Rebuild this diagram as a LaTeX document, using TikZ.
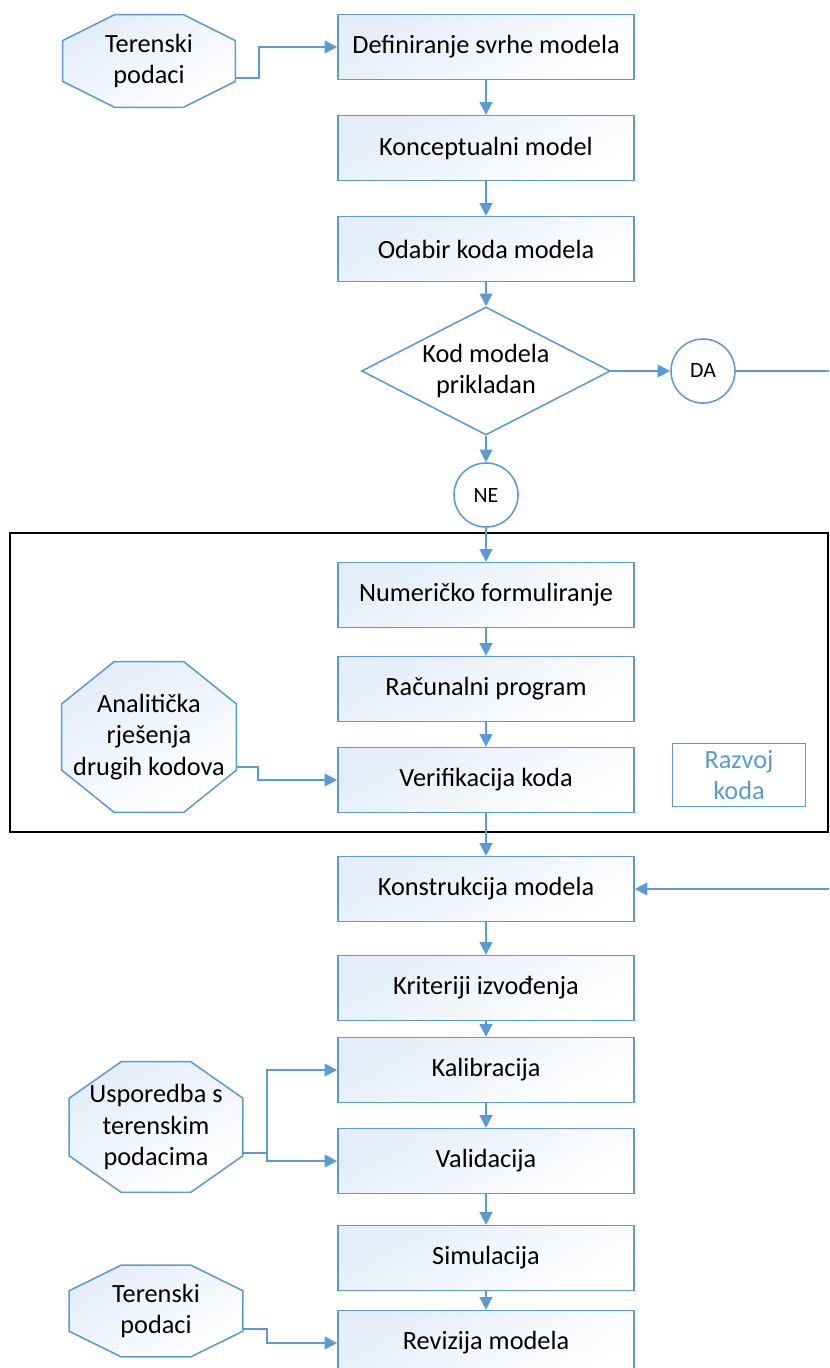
\documentclass[tikz,border=0pt]{standalone}
\usepackage{fontspec}
\setmainfont{Carlito}
\usetikzlibrary{arrows.meta,shapes.geometric,calc,backgrounds}
\definecolor{lineblue}{RGB}{91,155,213}
\definecolor{boxtop}{RGB}{228,237,248}

\begin{document}
\begin{tikzpicture}
		[x=0.025cm, y=-0.025cm,
		stepbox/.style={draw=lineblue, line width=1.1pt, top color=boxtop, bottom color=white, shading angle=30,
			minimum width=7.4cm, minimum height=1.62cm, font=\fontsize{18.7}{22}\selectfont},
		octline/.style={draw=lineblue, line width=1.1pt, top color=boxtop, bottom color=white, shading angle=30},
		octa/.style={align=center, inner sep=0pt, font=\fontsize{18.7}{22.5}\selectfont,
			append after command={\pgfextra{\begin{pgfinterruptpath}\begin{pgfonlayer}{background}
				\draw[octline] ($(\tikzlastnode.north west)!0.3!(\tikzlastnode.north east)$)
				-- ($(\tikzlastnode.north west)!0.7!(\tikzlastnode.north east)$)
				-- ($(\tikzlastnode.north east)!0.28!(\tikzlastnode.south east)$)
				-- ($(\tikzlastnode.north east)!0.72!(\tikzlastnode.south east)$)
				-- ($(\tikzlastnode.south west)!0.7!(\tikzlastnode.south east)$)
				-- ($(\tikzlastnode.south west)!0.3!(\tikzlastnode.south east)$)
				-- ($(\tikzlastnode.north west)!0.72!(\tikzlastnode.south west)$)
				-- ($(\tikzlastnode.north west)!0.28!(\tikzlastnode.south west)$) -- cycle;
				\end{pgfonlayer}\end{pgfinterruptpath}}}},
		decision/.style={diamond, aspect=1.9, draw=lineblue, line width=1.1pt, fill=white, inner sep=0pt,
			align=center, minimum width=6.22cm, minimum height=3.2cm, font=\fontsize{18.7}{22}\selectfont},
		joint/.style={circle, draw=lineblue, line width=1.1pt, fill=white, minimum size=1.6cm, inner sep=0pt,
			font=\fontsize{15.5}{17}\selectfont},
		frame/.style={draw=black, line width=1.3pt},
		link/.style={lineblue, line width=1.4pt},
		arrow/.style={link, -{Triangle[length=9pt,width=9pt]}}]
		
		\useasboundingbox (0,0) rectangle (829,1368);
		\clip (0,0) rectangle (829,1368);
		
		\draw[frame] (10,533) rectangle (828,832);
		
		% main column
		\node[stepbox] (def) at (486,47) {Definiranje svrhe modela};
		\node[stepbox] (konc) at (486,148) {Konceptualni model};
		\node[stepbox] (odab) at (486,249) {Odabir koda modela};
		\node[decision] (kod) at (486,371) {Kod modela\\prikladan};
		\node[joint] (da) at (703,371) {DA};
		\node[joint] (ne) at (486,495) {NE};
		\node[stepbox] (num) at (486,595) {Numeričko formuliranje};
		\node[stepbox] (rac) at (486,689) {Računalni program};
		\node[stepbox] (ver) at (486,780) {Verifikacija koda};
		\node[stepbox] (kon) at (486,889) {Konstrukcija modela};
		\node[stepbox] (kri) at (486,988) {Kriteriji izvođenja};
		\node[stepbox] (kal) at (486,1070) {Kalibracija};
		\node[stepbox] (val) at (486,1161) {Validacija};
		\node[stepbox] (sim) at (486,1258) {Simulacija};
		\node[stepbox] (rev) at (486,1343) {Revizija modela};
		
		\node[stepbox, minimum width=3.32cm, minimum height=1.58cm, text=lineblue, align=center,
		top color=white, font=\fontsize{18.7}{22.5}\selectfont] (razvoj) at (739,775) {Razvoj\\koda};
		
		% inputs
		\node[octa, minimum width=4.3cm, minimum height=2.3cm] (ter1) at (149,61) {Terenski\\podaci};
		\node[octa, minimum width=4.35cm, minimum height=3.75cm] (anal) at (149,737) {Analitička\\rješenja\\drugih kodova};
		\node[octa, minimum width=4.33cm, minimum height=3.25cm] (uspo) at (156,1127) {Usporedba s\\terenskim\\podacima};
		\node[octa, minimum width=4.33cm, minimum height=2.28cm] (ter2) at (156,1311) {Terenski\\podaci};
		
		\coordinate (edgeA) at (829,371);
		\coordinate (edgeB) at (829,889);
		
		\foreach \a/\b in {def/konc, konc/odab, odab/kod, kod/ne, ne/num, num/rac, rac/ver,
			ver/kon, kon/kri, kri/kal, kal/val, val/sim, sim/rev}
		\draw[arrow] (\a) -- (\b);
		
		\draw[arrow] (kod) -- (da);
		\draw[link] (da) -- (edgeA);
		\draw[arrow] (edgeB) -- (kon);
		
		\draw[arrow] ($(ter1.east)+(0,17)$) -- ++(24,0) |- (def);
		\draw[arrow] ($(anal.east)+(0,30)$) -- ++(22,0) |- (ver);
		\draw[arrow] ($(uspo.east)+(0,26)$) -- ++(24,0) |- (kal);
		\draw[arrow] ($(uspo.east)+(0,26)$) -- ++(24,0) |- (val);
		\draw[arrow] ($(ter2.east)+(0,18)$) -- ++(24,0) |- (rev);
		
\end{tikzpicture}
\end{document}
